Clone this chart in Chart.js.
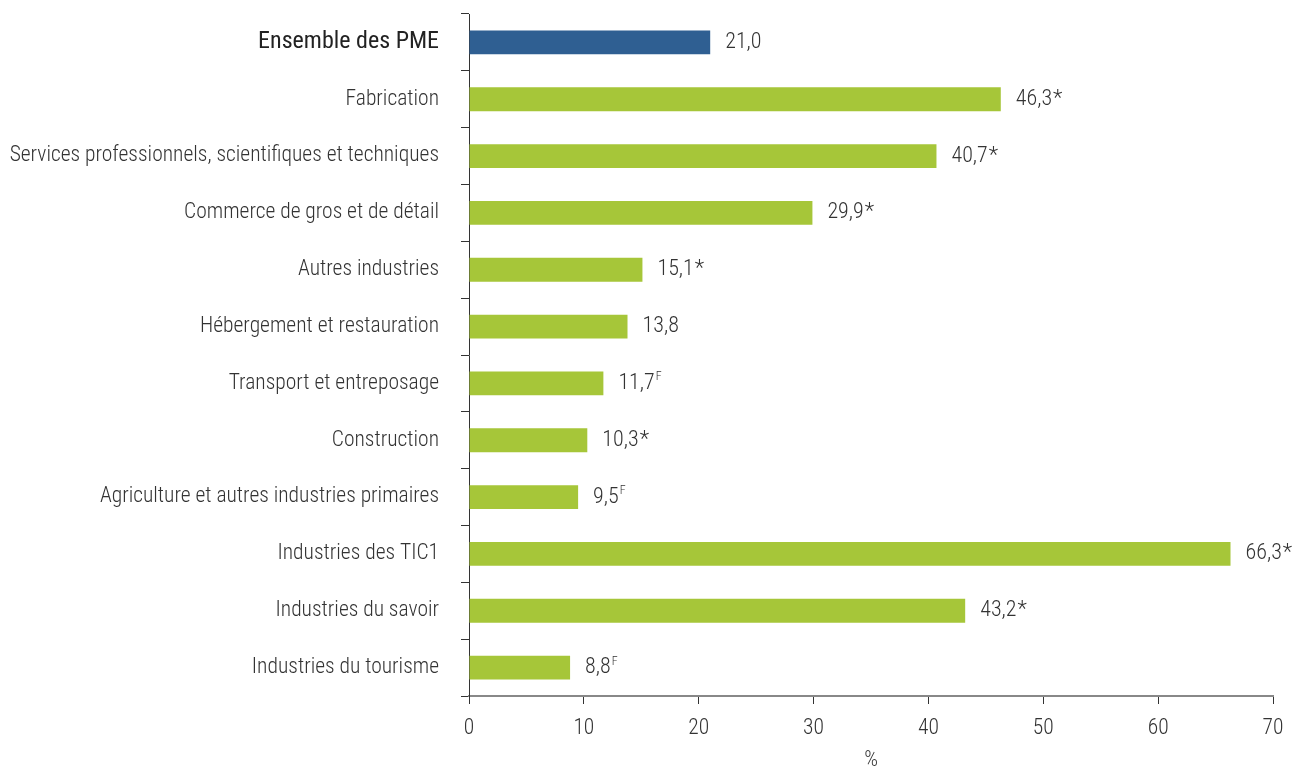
<!DOCTYPE html>
<html lang="fr">
<head>
<meta charset="utf-8">
<script src="https://cdn.jsdelivr.net/npm/chart.js@4"></script>
<style>
  html, body { margin: 0; padding: 0; background: #fff; }
  #wrap { width: 1302px; height: 767px; position: relative; }
</style>
</head>
<body>
<div id="wrap"><canvas id="chartPme"></canvas></div>
<script>
// ── data ──
const CATEGORIES = [
  'Ensemble des PME',
  'Fabrication',
  'Services professionnels, scientifiques et techniques',
  'Commerce de gros et de détail',
  'Autres industries',
  'Hébergement et restauration',
  'Transport et entreposage',
  'Construction',
  'Agriculture et autres industries primaires',
  'Industries des TIC1',
  'Industries du savoir',
  'Industries du tourisme'
];
const VALUES = [21.0, 46.3, 40.7, 29.9, 15.1, 13.8, 11.7, 10.3, 9.5, 66.3, 43.2, 8.8];
// note attached to each value: '*' = significant, 'F' = use with caution
const NOTES = ['', '*', '*', '*', '*', '', 'F', '*', 'F', '*', '*', 'F'];
const X_TICKS = [0, 10, 20, 30, 40, 50, 60, 70];

const FONT = "'Roboto Condensed', 'DejaVu Sans Condensed', 'Roboto', sans-serif";
const BLUE = '#2f5f92';
const GREEN = '#a6c639';

/* ═══ value labels plugin ═══ */
const valueLabels = {
  id: 'valueLabels',
  afterDatasetsDraw(chart) {
    const ctx = chart.ctx;
    const meta = chart.getDatasetMeta(0);
    ctx.save();
    ctx.fillStyle = '#333';
    ctx.textBaseline = 'middle';
    meta.data.forEach((bar, i) => {
      const txt = VALUES[i].toFixed(1).replace('.', ',');
      const x = bar.x + 15;
      const y = bar.y;
      ctx.font = '300 22px ' + FONT;
      ctx.textAlign = 'left';
      ctx.fillText(txt, x, y);
      const w = ctx.measureText(txt).width;
      const note = NOTES[i];
      if (note === '*') {
        ctx.fillText('*', x + w + 1, y);
      } else if (note === 'F') {
        ctx.font = '300 12px ' + FONT;
        ctx.fillText('F', x + w + 1, y - 6);
      }
    });
    ctx.restore();
  }
};

new Chart(document.getElementById('chartPme').getContext('2d'), {
  type: 'bar',
  data: {
    labels: CATEGORIES,
    datasets: [{
      data: VALUES,
      backgroundColor: VALUES.map((v, i) => i === 0 ? BLUE : GREEN),
      borderWidth: 0,
      barPercentage: 0.84,
      categoryPercentage: 0.5
    }]
  },
  plugins: [valueLabels],
  options: {
    indexAxis: 'y',
    responsive: true,
    maintainAspectRatio: false,
    animation: false,
    layout: { autoPadding: false, padding: { top: 14, right: 29, left: 0, bottom: 0 } },
    plugins: { legend: { display: false }, tooltip: { enabled: false } },
    scales: {
      x: {
        min: 0,
        max: 70,
        afterBuildTicks: s => { s.ticks = X_TICKS.map(v => ({ value: v })); },
        afterFit: s => { s.height = 71; },
        border: { color: '#888', width: 2 },
        grid: { drawOnChartArea: false, drawTicks: true, tickLength: 8, color: '#333' },
        ticks: { color: '#333', font: { family: FONT, size: 21.5, weight: '300' }, padding: 12 },
        title: {
          display: true, text: '%', color: '#333',
          font: { family: FONT, size: 21.5, weight: '300', lineHeight: 1 },
          padding: { top: 0, bottom: -4 }
        }
      },
      y: {
        afterFit: s => { s.width = 469; s.paddingTop = 0; s.paddingBottom = 0; },
        border: { color: '#333', width: 1 },
        grid: { drawOnChartArea: false, drawTicks: true, tickLength: 8, color: '#333', offset: true },
        ticks: {
          color: ctx => ctx.index === 0 ? '#222' : '#333',
          font: ctx => ctx.index === 0
            ? { family: FONT, size: 24, weight: '400' }
            : { family: FONT, size: 21.5, weight: '300' },
          padding: 22,
          autoSkip: false
        }
      }
    }
  }
});
</script>
</body>
</html>
